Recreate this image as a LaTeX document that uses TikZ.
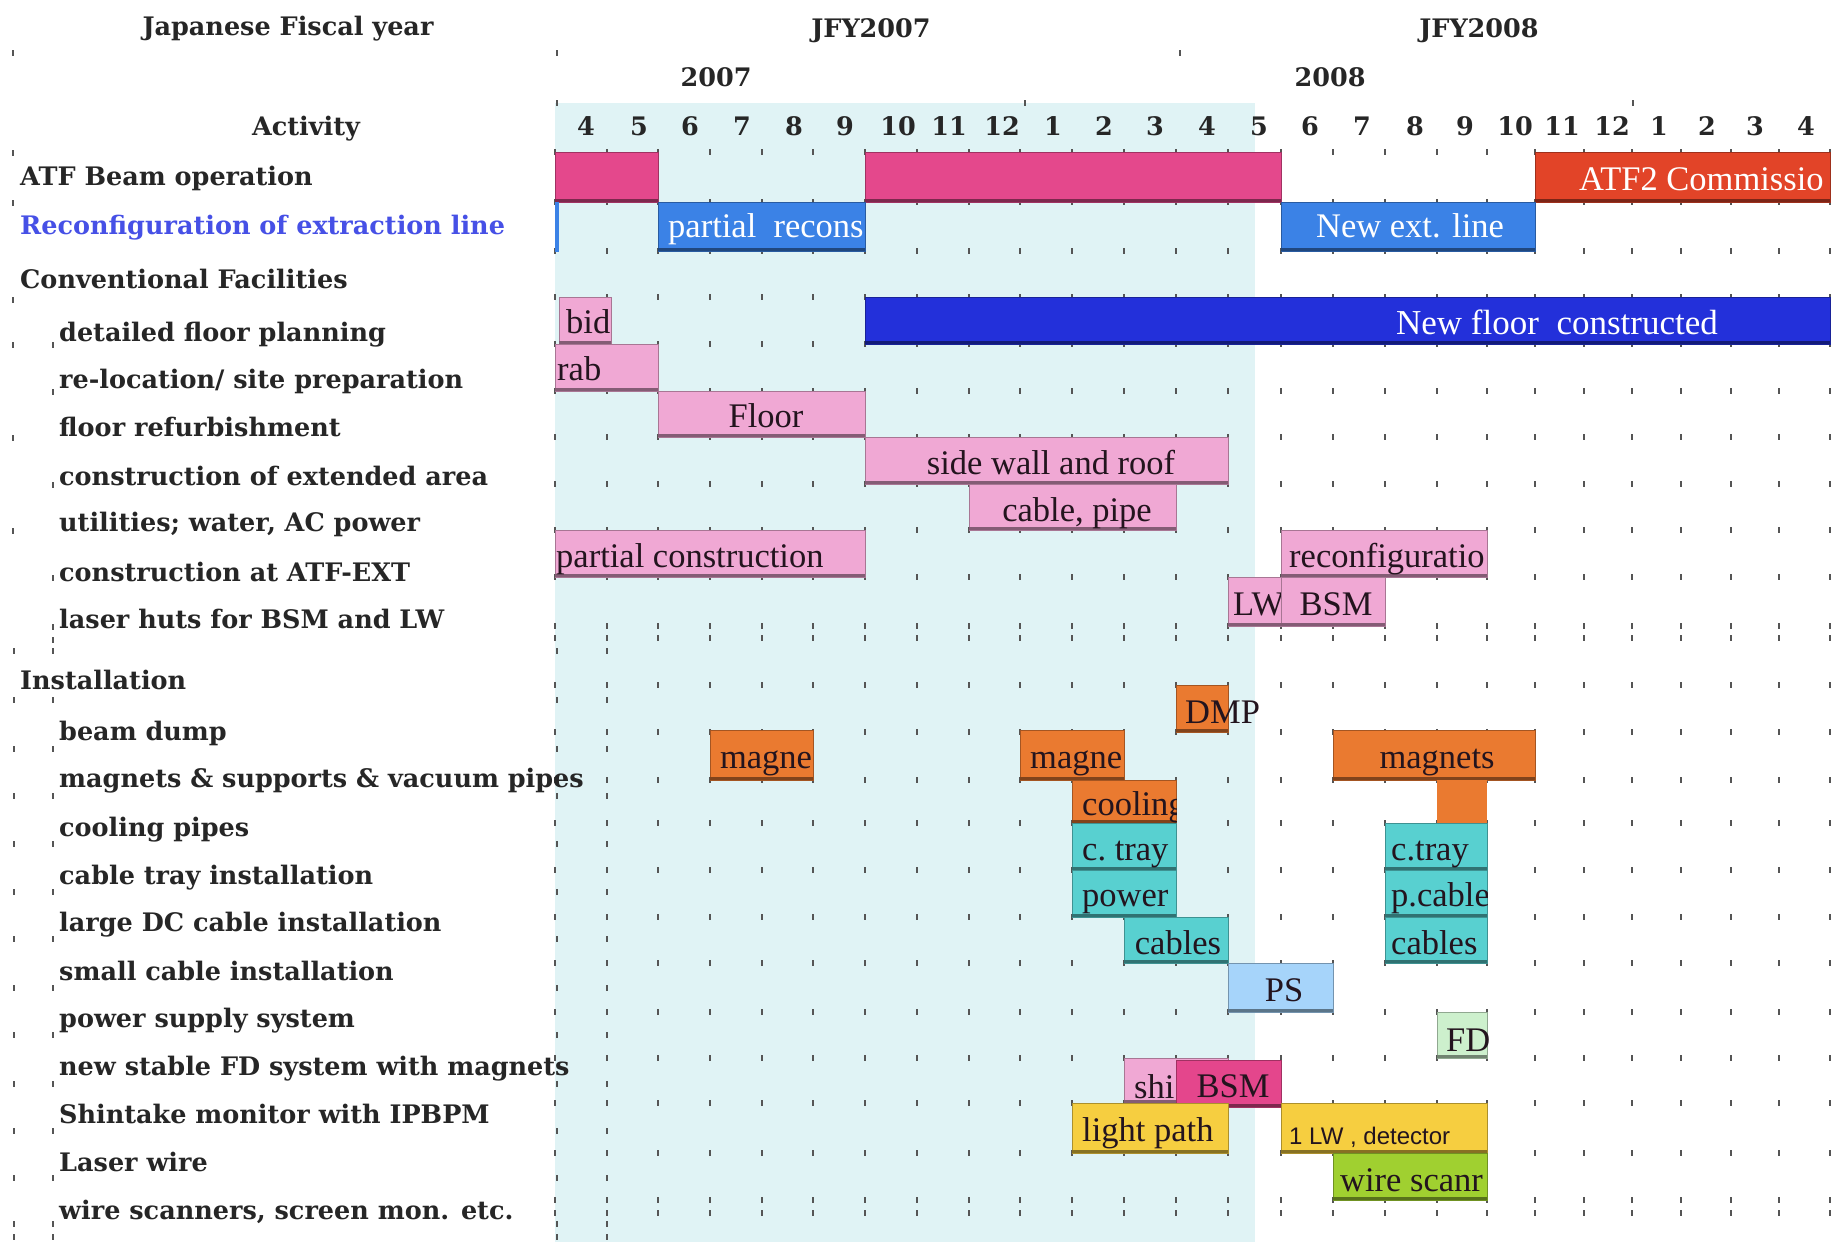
\documentclass[tikz,border=0pt]{standalone}
\usepackage{fontspec}
\setmainfont{Liberation Serif}
\newfontfamily\labfont{DejaVu Serif}
\newfontfamily\sansf{Liberation Sans}
\definecolor{curshade}{RGB}{224,243,245}
\definecolor{beam}{RGB}{228,72,140}
\definecolor{atftwo}{RGB}{226,68,40}
\definecolor{extblue}{RGB}{59,130,230}
\definecolor{floorblue}{RGB}{35,48,218}
\definecolor{lpink}{RGB}{240,168,212}
\definecolor{orng}{RGB}{234,122,48}
\definecolor{teal}{RGB}{88,208,208}
\definecolor{psblue}{RGB}{166,212,250}
\definecolor{fdgreen}{RGB}{205,240,205}
\definecolor{magen}{RGB}{228,70,140}
\definecolor{yell}{RGB}{246,206,64}
\definecolor{grn}{RGB}{160,208,48}
\definecolor{recblue}{RGB}{70,80,230}
\definecolor{tickc}{RGB}{85,85,85}
\definecolor{darktxt}{RGB}{35,20,30}
\def\xs{{555,607,658,710,762,813,865,917,969,1020,1072,1124,1176,1228,1281,1333,1385,1437,1487,1535,1584,1632,1681,1731,1779,1830}}
\newcommand\gbar[5]{%
  \fill[#1] ({#2},#4) rectangle ({#3},#5);
  \draw[#1!70!black, line width=0.8pt] ({#2},#4) rectangle ({#3},#5);
  \fill[#1!55!black] ({#2},{#5-3.5}) rectangle ({#3},#5);
}
\newcommand\tk[2]{\fill[tickc] ({#1-1.2},{#2-2.6}) rectangle ({#1+1.2},{#2+2.6});}
\tikzset{
  lab/.style={font=\labfont\bfseries\fontsize{25.5}{29}\selectfont, anchor=west, inner sep=0pt, text height=18pt, text depth=6pt, text=black!85, yshift=-3pt},
  hdr/.style={font=\labfont\bfseries\fontsize{25.5}{29}\selectfont, anchor=center, inner sep=0pt, text height=18pt, text depth=6pt, text=black!85, yshift=-3pt},
  btxt/.style={font=\fontsize{34.5}{39}\selectfont, inner sep=0pt, text height=22pt, text depth=7pt, text=darktxt, yshift=-6pt},
  wtxt/.style={btxt, text=white},
}
\begin{document}
\begin{tikzpicture}[x=1pt,y=-1pt]
\useasboundingbox (0,0) rectangle (1841,1242);
\fill[white] (0,0) rectangle (1841,1242);
% shaded current-period area
\fill[curshade] (555,103) rectangle (1255,1242);
% grid ticks
\foreach \k in {0,...,25}{
  \foreach \y in {152,202,251,297,344,391,437,484,530,577,626,638,685,732,780,823,870,917,963,1012,1058,1103,1153,1200,1213}{
    \tk{\xs[\k]}{\y}
  }
}
\foreach \x in {14,53,557,607}{
  \foreach \y in {651,700,749,796,844,892,939,988,1035,1084,1131,1178,1224,1237}{
    \tk{\x}{\y}
  }
}
\tk{13}{53}\tk{557}{53}\tk{557}{103}\tk{1180}{53}\tk{1025}{103}\tk{1633}{103}
\tk{13}{153}\tk{13}{203}\tk{13}{300}\tk{13}{345}\tk{53}{345}\tk{53}{392}\tk{13}{438}\tk{53}{485}\tk{13}{531}\tk{53}{578}\tk{53}{627}\tk{53}{640}

% header
\node[hdr] (hjfy) at (288,26) {Japanese Fiscal year};
\node[hdr] (hj7) at (871,28) {JFY2007};
\node[hdr] (hj8) at (1479,28) {JFY2008};
\node[hdr] (hy7) at (716,77) {2007};
\node[hdr] (hy8) at (1330,77) {2008};
\node[hdr] (hact) at (306,126) {Activity};
\foreach \x/\m [count=\i] in {586/4,639/5,690/6,742/7,794/8,845/9,898/10,949/11,1002/12,1053/1,1104/2,1155/3,1207/4,1259/5,1310/6,1362/7,1415/8,1465/9,1515/10,1562/11,1612/12,1659/1,1707/2,1755/3,1806/4}{
  \node[hdr] (mon\i) at (\x,126) {\m};
}

% row labels
\node[lab] (l1) at (20,176) {ATF Beam operation};
\node[lab, text=recblue] (l2) at (20,225) {Reconfiguration of extraction line};
\node[lab] (l3) at (20,279) {Conventional Facilities};
\node[lab] (l4) at (59,332) {detailed floor planning};
\node[lab] (l5) at (59,379) {re-location/ site preparation};
\node[lab] (l6) at (59,427) {floor refurbishment};
\node[lab] (l7) at (59,476) {construction of extended area};
\node[lab] (l8) at (59,522) {utilities; water, AC power};
\node[lab] (l9) at (59,572) {construction at ATF-EXT};
\node[lab] (l10) at (59,619) {laser huts for BSM and LW};
\node[lab] (l11) at (20,680) {Installation};
\node[lab] (l12) at (59,731) {beam dump};
\node[lab] (l13) at (59,778) {magnets \& supports \& vacuum pipes};
\node[lab] (l14) at (59,827) {cooling pipes};
\node[lab] (l15) at (59,875) {cable tray installation};
\node[lab] (l16) at (59,922) {large DC cable installation};
\node[lab] (l17) at (59,971) {small cable installation};
\node[lab] (l18) at (59,1018) {power supply system};
\node[lab] (l19) at (59,1066) {new stable FD system with magnets};
\node[lab] (l20) at (59,1114) {Shintake monitor with IPBPM};
\node[lab] (l21) at (59,1162) {Laser wire};
\node[lab] (l22) at (59,1210) {wire scanners, screen mon. etc.};

% ATF beam operation
\gbar{beam}{\xs[0]}{\xs[2]}{152}{202}
\gbar{beam}{\xs[6]}{\xs[14]}{152}{202}
\gbar{atftwo}{\xs[19]}{\xs[25]}{152}{202}
\begin{scope}
\clip ({\xs[19]},152) rectangle ({\xs[25]},202);
\node[wtxt, anchor=west] (tatf) at (1579,177) {ATF2 Commissio};
\end{scope}
% reconfiguration
\fill[extblue] (555,202) rectangle (558.5,252);
\gbar{extblue}{\xs[2]}{\xs[6]}{202}{251}
\begin{scope}
\clip ({\xs[2]},202) rectangle ({\xs[6]},251);
\node[wtxt, anchor=west] (trec) at (668,224) {partial\ \ recons};
\end{scope}
\gbar{extblue}{\xs[14]}{\xs[19]}{202}{251}
\node[wtxt] (tnew) at (1410,224) {New ext. line};
% conventional facilities
\gbar{floorblue}{\xs[6]}{\xs[25]}{297}{344}
\node[wtxt, font=\fontsize{35}{39}\selectfont] (tflr) at (1557,321) {New floor\ \ constructed};
\gbar{lpink}{559}{611}{297}{344}
\node[btxt, anchor=west] (tbid) at (566,320) {bid};
\gbar{lpink}{\xs[0]}{\xs[2]}{344}{391}
\node[btxt, anchor=west] (trab) at (557,367) {rab};
\gbar{lpink}{\xs[2]}{\xs[6]}{391}{437}
\node[btxt] (tfloor) at (766,414) {Floor};
\gbar{lpink}{\xs[6]}{\xs[13]}{437}{484}
\node[btxt] (tside) at (1051,461) {side wall and roof};
\gbar{lpink}{\xs[8]}{\xs[12]}{484}{530}
\node[btxt] (tcab) at (1077,508) {cable, pipe};
\gbar{lpink}{\xs[0]}{\xs[6]}{530}{577}
\node[btxt, anchor=west] (tpc) at (556,554) {partial construction};
\gbar{lpink}{\xs[14]}{\xs[18]}{530}{577}
\begin{scope}
\clip ({\xs[14]},530) rectangle ({\xs[18]},577);
\node[btxt, anchor=west] (treconf) at (1289,554) {reconfiguratio};
\end{scope}
\gbar{lpink}{\xs[13]}{\xs[14]}{577}{626}
\node[btxt, anchor=west] (tlw) at (1233,602) {LW};
\gbar{lpink}{\xs[14]}{\xs[16]}{577}{626}
\node[btxt] (tbsm) at (1336,602) {BSM};
% installation
\gbar{orng}{\xs[12]}{\xs[13]}{685}{732}
\node[btxt, anchor=west] (tdmp) at (1185,710) {DMP};
\gbar{orng}{\xs[3]}{\xs[5]}{730}{780}
\node[btxt] (tmag1) at (766,755) {magne};
\gbar{orng}{\xs[9]}{\xs[11]}{730}{780}
\begin{scope}
\clip ({\xs[9]},730) rectangle ({\xs[11]},780);
\node[btxt, anchor=west] (tmag2) at (1030,755) {magne};
\end{scope}
\gbar{orng}{\xs[15]}{\xs[19]}{730}{780}
\node[btxt] (tmag3) at (1437,755) {magnets};
\gbar{orng}{\xs[10]}{\xs[12]}{780}{823}
\begin{scope}
\clip ({\xs[10]},780) rectangle ({\xs[12]},823);
\node[btxt, anchor=west] (tcool) at (1082,802) {cooling};
\end{scope}
\fill[orng] ({\xs[17]},780) rectangle ({\xs[18]},823);
\gbar{teal}{\xs[10]}{\xs[12]}{823}{870}
\node[btxt, anchor=west] (tct1) at (1082,847) {c.\ tray};
\gbar{teal}{\xs[16]}{\xs[18]}{823}{870}
\node[btxt, anchor=west] (tct2) at (1391,847) {c.tray};
\gbar{teal}{\xs[10]}{\xs[12]}{870}{917}
\node[btxt, anchor=west] (tpow) at (1082,893) {power};
\gbar{teal}{\xs[16]}{\xs[18]}{870}{917}
\begin{scope}
\clip ({\xs[16]},870) rectangle ({\xs[18]},917);
\node[btxt, anchor=west] (tpcab) at (1391,893) {p.cable};
\end{scope}
\gbar{teal}{\xs[11]}{\xs[13]}{917}{963}
\node[btxt] (tcab1) at (1178,941) {cables};
\gbar{teal}{\xs[16]}{\xs[18]}{917}{963}
\node[btxt, anchor=west] (tcab2) at (1391,941) {cables};
\gbar{psblue}{\xs[13]}{\xs[15]}{963}{1012}
\node[btxt] (tps) at (1284,988) {PS};
\gbar{fdgreen}{\xs[17]}{\xs[18]}{1012}{1058}
\node[btxt, anchor=west] (tfd) at (1446,1038) {FD};
\gbar{lpink}{\xs[11]}{\xs[13]}{1058}{1103}
\begin{scope}
\clip ({\xs[11]},1058) rectangle ({\xs[12]},1103);
\node[btxt, anchor=west] (tshi) at (1134,1085) {shi};
\end{scope}
\gbar{magen}{\xs[12]}{\xs[14]}{1060}{1107}
\node[btxt] (tbsm2) at (1233,1084) {BSM};
\gbar{yell}{\xs[10]}{\xs[13]}{1103}{1153}
\node[btxt, anchor=west] (tlp) at (1082,1128) {light path};
\gbar{yell}{\xs[14]}{\xs[18]}{1103}{1153}
\node[btxt, anchor=west, font=\sansf\fontsize{24}{28}\selectfont] (tlwd) at (1289,1131) {1 LW , detector};
\gbar{grn}{\xs[15]}{\xs[18]}{1153}{1200}
\begin{scope}
\clip ({\xs[15]},1153) rectangle ({\xs[18]},1200);
\node[btxt, anchor=west] (twire) at (1340,1178) {wire scanr};
\end{scope}
\end{tikzpicture}
\end{document}
